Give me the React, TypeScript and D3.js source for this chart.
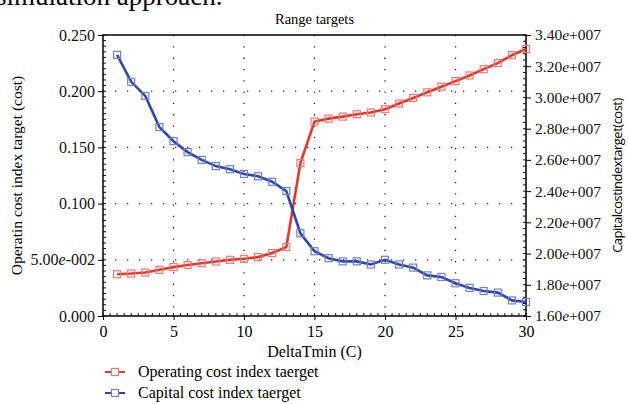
import React, { useEffect, useRef } from 'react';
import * as d3 from 'd3';

// DeltaTmin (C)
const deltaTmin = [1, 2, 3, 4, 5, 6, 7, 8, 9, 10, 11, 12, 13, 14, 15, 16, 17, 18, 19, 20, 21, 22, 23, 24, 25, 26, 27, 28, 29, 30];

// left axis - operating cost index target
const operatingCost = [0.0372, 0.0378, 0.0387, 0.0411, 0.0435, 0.0453, 0.047, 0.0485, 0.05, 0.0509, 0.0524, 0.056, 0.0613, 0.136, 0.173, 0.1756, 0.1774, 0.1795, 0.181, 0.184, 0.189, 0.194, 0.199, 0.204, 0.209, 0.214, 0.2196, 0.225, 0.232, 0.2375];

// right axis - capital cost index target
const capitalCost = [3.273e7, 3.10e7, 3.01e7, 2.81e7, 2.72e7, 2.65e7, 2.60e7, 2.56e7, 2.54e7, 2.51e7, 2.495e7, 2.46e7, 2.40e7, 2.13e7, 2.015e7, 1.97e7, 1.95e7, 1.95e7, 1.93e7, 1.96e7, 1.93e7, 1.91e7, 1.86e7, 1.85e7, 1.81e7, 1.78e7, 1.76e7, 1.75e7, 1.70e7, 1.69e7];

const xTicks = [0, 5, 10, 15, 20, 25, 30];
const leftTicks = [0, 0.05, 0.1, 0.15, 0.2, 0.25];
// [mantissa, exponent] ; exponent empty -> plain number
const leftTickLabels = [['0.000', ''], ['5.00', '-002'], ['0.100', ''], ['0.150', ''], ['0.200', ''], ['0.250', '']];
const rightTicks = [1.6e7, 1.8e7, 2.0e7, 2.2e7, 2.4e7, 2.6e7, 2.8e7, 3.0e7, 3.2e7, 3.4e7];
const rightTickLabels = ['1.60', '1.80', '2.00', '2.20', '2.40', '2.60', '2.80', '3.00', '3.20', '3.40'];

const legendNames = ['Operating cost index taerget', 'Capital cost index taerget'];

const serif = '"Liberation Serif", "DejaVu Serif", serif';

export default function App() {
    const ref = useRef<SVGSVGElement>(null);

    useEffect(() => {
        const svg = d3.select(ref.current);
        svg.selectAll('*').remove();

        const margin = {top: 35, right: 102, bottom: 88, left: 103};
        const width = 628 - margin.left - margin.right;
        const height = 404 - margin.top - margin.bottom;

        // clipped text of the page above the figure
        svg.append('text')
            .attr('x', -4).attr('y', 5)
            .style('font-family', serif).style('font-size', '27px')
            .text('simulation approach.');

        const g = svg.append('g').attr('transform', 'translate(' + margin.left + ',' + margin.top + ')');

        const x = d3.scaleLinear().domain([0, 30]).range([0, width]);
        const yL = d3.scaleLinear().domain([0, 0.25]).range([height, 0]);
        const yR = d3.scaleLinear().domain([1.6e7, 3.4e7]).range([height, 0]);

        // dotted grid
        g.append('g').selectAll('line').data(xTicks.slice(1, -1)).enter().append('line')
            .attr('x1', d => x(d)).attr('x2', d => x(d)).attr('y1', 0).attr('y2', height)
            .attr('stroke', '#222').attr('stroke-width', 1.3).attr('stroke-dasharray', '1.3,10');
        g.append('g').selectAll('line').data(leftTicks.slice(1, -1)).enter().append('line')
            .attr('y1', d => yL(d)).attr('y2', d => yL(d)).attr('x1', 0).attr('x2', width)
            .attr('stroke', '#222').attr('stroke-width', 1.3).attr('stroke-dasharray', '1.3,10.7');

        // frame
        g.append('rect').attr('width', width).attr('height', height)
            .attr('fill', 'none').attr('stroke', '#111').attr('stroke-width', 1.6);

        // bottom axis
        const xAxis = d3.axisBottom(x).tickValues(xTicks).tickSize(4).tickFormat(d3.format('d'));
        const gx = g.append('g').attr('transform', 'translate(0,' + height + ')').call(xAxis);
        gx.select('.domain').remove();
        gx.selectAll('.tick text').style('font-family', serif).style('font-size', '16px').attr('dy', '0.85em');
        g.append('g').selectAll('line').data(d3.range(0, 30.01, 0.5)).enter().append('line')
            .attr('x1', d => x(d)).attr('x2', d => x(d)).attr('y1', height).attr('y2', height - 3)
            .attr('stroke', '#111');

        // left axis
        const yAxisL = d3.axisLeft(yL).tickValues(leftTicks).tickSize(5).tickFormat(() => '');
        const gl = g.append('g').call(yAxisL);
        gl.select('.domain').remove();
        gl.selectAll('.tick').each(function (d, i) {
            const t = d3.select(this).append('text')
                .attr('x', -8).attr('dy', '0.32em').attr('fill', '#111')
                .style('font-family', serif).style('font-size', '16px').attr('text-anchor', 'end');
            t.append('tspan').text(leftTickLabels[i][0]);
            if (leftTickLabels[i][1]) {
                t.append('tspan').style('font-style', 'italic').text('e');
                t.append('tspan').text(leftTickLabels[i][1]);
            }
        });
        g.append('g').selectAll('line').data(d3.range(0, 0.2501, 0.005)).enter().append('line')
            .attr('y1', d => yL(d)).attr('y2', d => yL(d)).attr('x1', 0).attr('x2', 3)
            .attr('stroke', '#111');

        // right axis
        const yAxisR = d3.axisRight(yR).tickValues(rightTicks).tickSize(5).tickFormat(() => '');
        const gr = g.append('g').attr('transform', 'translate(' + width + ',0)').call(yAxisR);
        gr.select('.domain').remove();
        gr.selectAll('.tick').each(function (d, i) {
            const t = d3.select(this).append('text')
                .attr('x', 9).attr('dy', '0.32em').attr('fill', '#111')
                .style('font-family', serif).style('font-size', '15.5px').attr('text-anchor', 'start');
            t.append('tspan').text(rightTickLabels[i]);
            t.append('tspan').style('font-style', 'italic').text('e');
            t.append('tspan').text('+007');
        });
        g.append('g').selectAll('line').data(d3.range(1.6e7, 3.4001e7, 0.04e7)).enter().append('line')
            .attr('y1', d => yR(d)).attr('y2', d => yR(d)).attr('x1', width).attr('x2', width - 3)
            .attr('stroke', '#111');

        // series
        const series = [
            {values: operatingCost, y: yL, color: '#e8352b', marker: '#f07a70'},
            {values: capitalCost, y: yR, color: '#2f47ad', marker: '#6e7fd2'}
        ];
        series.forEach(s => {
            const line = d3.line<number>().x((d, i) => x(deltaTmin[i])).y(d => s.y(d));
            g.append('path').datum(s.values).attr('d', line)
                .attr('fill', 'none').attr('stroke', s.color).attr('stroke-width', 2.6);
            g.append('g').selectAll('rect').data(s.values).enter().append('rect')
                .attr('x', (d, i) => x(deltaTmin[i]) - 3.5).attr('y', d => s.y(d) - 3.5)
                .attr('width', 7).attr('height', 7)
                .attr('fill', 'none').attr('stroke', s.marker).attr('stroke-width', 1.2);
        });

        // titles
        svg.append('text').attr('x', margin.left + width / 2).attr('y', 24).attr('text-anchor', 'middle')
            .style('font-family', serif).style('font-size', '14.5px').text('Range targets');
        svg.append('text').attr('x', margin.left + width / 2).attr('y', 357).attr('text-anchor', 'middle')
            .style('font-family', serif).style('font-size', '16px').text('DeltaTmin (C)');
        svg.append('text').attr('transform', 'translate(22,' + (margin.top + height / 2) + ') rotate(-90)')
            .attr('text-anchor', 'middle')
            .style('font-family', serif).style('font-size', '15.5px').text('Operatin cost index target (cost)');
        svg.append('text').attr('transform', 'translate(622,' + (margin.top + height / 2) + ') rotate(-90)')
            .attr('text-anchor', 'middle')
            .style('font-family', '"Open Sans", "Noto Sans", sans-serif').style('font-size', '13px')
            .style('letter-spacing', '-0.5px')
            .text('Capitalcostindextarget(cost)');

        // legend
        const leg = svg.append('g').attr('transform', 'translate(105,372)');
        series.forEach((s, i) => {
            const row = leg.append('g').attr('transform', 'translate(0,' + i * 21 + ')');
            row.append('line').attr('x1', 0).attr('x2', 20).attr('stroke', s.color).attr('stroke-width', 2);
            row.append('rect').attr('x', 6.5).attr('y', -3.5).attr('width', 7).attr('height', 7)
                .attr('fill', 'white').attr('stroke', s.marker).attr('stroke-width', 1.2);
            row.append('text').attr('x', 33).attr('dy', '0.33em')
                .style('font-family', serif).style('font-size', '16px').text(legendNames[i]);
        });
    }, []);

    return (
        <div style={{position: 'absolute', left: 0, top: 0}}>
            <svg ref={ref} width={628} height={404} style={{display: 'block', background: '#fff'}} />
        </div>
    );
}
